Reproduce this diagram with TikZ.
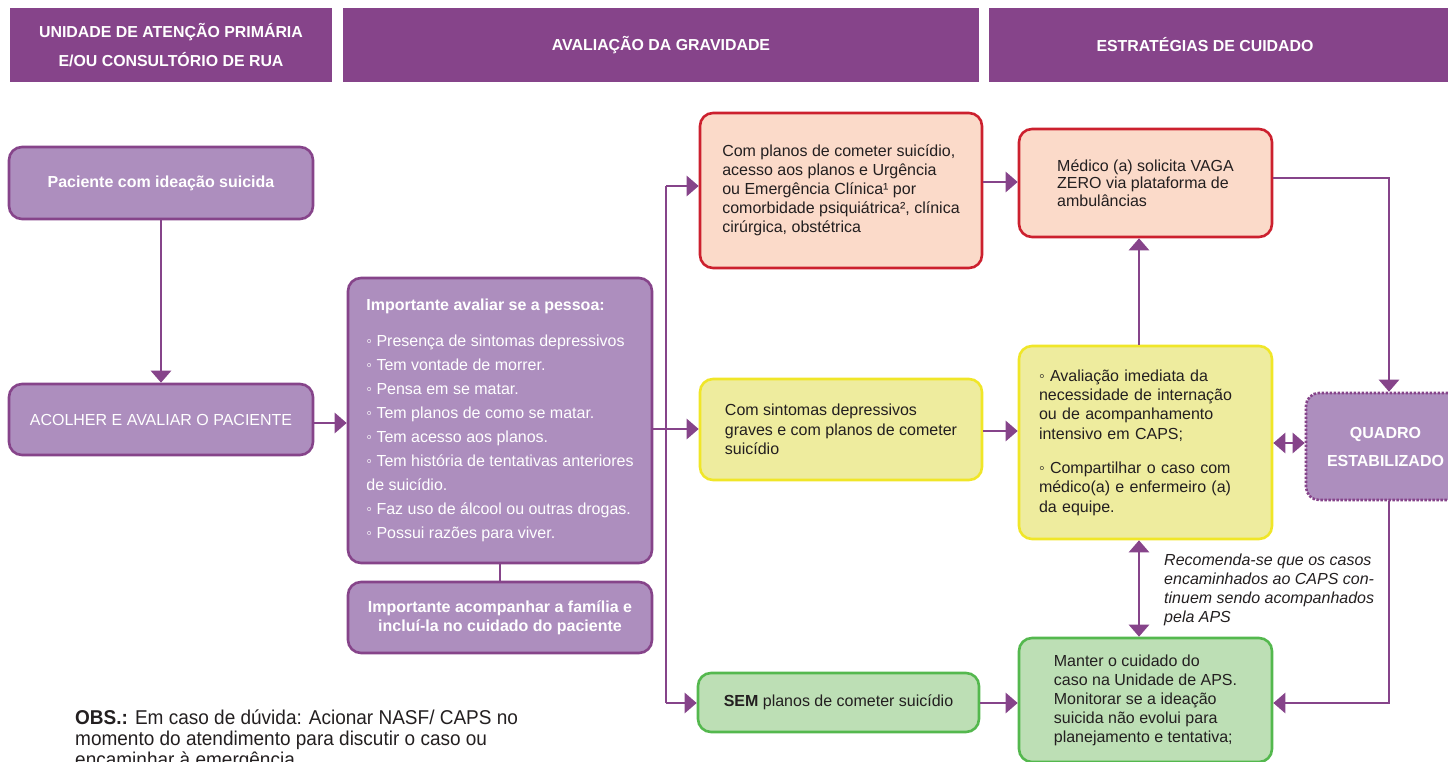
\documentclass[tikz,border=0pt]{standalone}
\usepackage{fontspec}
\setmainfont{Liberation Sans}
\newfontfamily\obsfont{Liberation Sans}[FakeStretch=0.95]
\usetikzlibrary{arrows.meta}
\definecolor{hdrc}{RGB}{134,68,138}
\definecolor{lc}{RGB}{134,68,138}
\definecolor{pfill}{RGB}{173,142,190}
\definecolor{rf}{RGB}{251,218,201}
\definecolor{rc}{RGB}{204,32,46}
\definecolor{yf}{RGB}{238,236,158}
\definecolor{yc}{RGB}{240,230,40}
\definecolor{gf}{RGB}{189,223,181}
\definecolor{gc}{RGB}{84,184,78}
\definecolor{tc}{RGB}{35,31,32}
\begin{document}
\begin{tikzpicture}[x=1pt,y=-1pt,
  hdrtext/.style={text=white, font=\bfseries\fontsize{15.9}{28.5}\selectfont, align=center},
  hdr/.style={hdrtext, fill=hdrc, inner sep=0pt, minimum height=74pt},
  box/.style={rounded corners=13pt, line width=2.6pt, inner sep=0pt, align=left, font=\fontsize{16}{19}\selectfont},
  pbox/.style={box, draw=lc, fill=pfill, text=white},
  rbox/.style={box, draw=rc, fill=rf, text=tc},
  ybox/.style={box, draw=yc, fill=yf, text=tc},
  gbox/.style={box, draw=gc, fill=gf, text=tc},
  qbox/.style={box, draw=lc, fill=pfill, text=white, dash pattern=on 2.4pt off 1.6pt},
  ln/.style={draw=lc, line width=2.8pt},
  arr/.style={ln, -{Triangle[length=12pt,width=20pt]}},
  darr/.style={ln, {Triangle[length=12pt,width=20pt]}-{Triangle[length=12pt,width=20pt]}}
]
\useasboundingbox (0,0) rectangle (1448,762);

% headers
\node[hdr, minimum width=322pt] (h1) at (171,45) {UNIDADE DE ATENÇÃO PRIMÁRIA\\E/OU CONSULTÓRIO DE RUA};
\node[hdr, minimum width=636pt] (h2) at (661,45) {AVALIAÇÃO DA GRAVIDADE};
\node[hdr, minimum width=459pt, label={[hdrtext, xshift=-13.5pt]center:ESTRATÉGIAS DE CUIDADO}] (h3) at (1218.5,45) {};

% left column
\node[pbox, minimum width=304pt, minimum height=72pt, align=center, font=\bfseries\fontsize{16}{19}\selectfont] (pac) at (161,183) {Paciente com ideação suicida};
\node[pbox, minimum width=304pt, minimum height=71pt, align=center] (aco) at (161,419.5) {ACOLHER E AVALIAR O PACIENTE};

% evaluation
\node[pbox, minimum width=304pt, minimum height=285pt, font=\fontsize{16}{24}\selectfont] (aval) at (500,420.5) {\textbf{Importante avaliar se a pessoa:}\\[12pt]
◦ Presença de sintomas depressivos\\
◦ Tem vontade de morrer.\\
◦ Pensa em se matar.\\
◦ Tem planos de como se matar.\\
◦ Tem acesso aos planos.\\
◦ Tem história de tentativas anteriores\\
de suicídio.\\
◦ Faz uso de álcool ou outras drogas.\\
◦ Possui razões para viver.};
\node[pbox, minimum width=304pt, minimum height=71pt, align=center, font=\bfseries\fontsize{16}{19}\selectfont] (fam) at (500,617.5) {Importante acompanhar a família e\\incluí-la no cuidado do paciente};

% severity
\node[rbox, minimum width=282pt, minimum height=155pt] (r1) at (841,190.5) {Com planos de cometer suicídio,\\acesso aos planos e Urgência\\ou Emergência Clínica¹ por\\comorbidade psiquiátrica², clínica\\cirúrgica, obstétrica};
\node[ybox, minimum width=282pt, minimum height=101pt, font=\fontsize{16}{19.5}\selectfont] (y1) at (841,429.5) {Com sintomas depressivos\\graves e com planos de cometer\\suicídio};
\node[gbox, minimum width=281pt, minimum height=59pt, align=center] (g1) at (838.5,702.5) {\textbf{SEM} planos de cometer suicídio};

% strategies
\node[rbox, minimum width=253pt, minimum height=108pt, font=\fontsize{16}{17.5}\selectfont] (r2) at (1145.5,183) {Médico (a) solicita VAGA\\ZERO via plataforma de\\ambulâncias};
\node[ybox, minimum width=253pt, minimum height=193pt, text width=213pt, font=\fontsize{16}{19.3}\selectfont] (y2) at (1145.5,442.5) {◦ Avaliação imediata da\\necessidade de internação\\ou de acompanhamento\\intensivo em CAPS;\\[15pt]◦ Compartilhar o caso com\\médico(a) e enfermeiro (a)\\da equipe.};
\node[gbox, minimum width=253pt, minimum height=124pt] (g2) at (1145.5,700) {Manter o cuidado do\\caso na Unidade de APS.\\Monitorar se a ideação\\suicida não evolui para\\planejamento e tentativa;};
\node[qbox, minimum width=159pt, minimum height=107pt, align=center, font=\bfseries\fontsize{16}{28}\selectfont] (q) at (1385.5,446.5) {QUADRO\\ESTABILIZADO};

% notes
\node[anchor=north west, inner sep=0pt, align=left, text=tc, font=\itshape\fontsize{16}{19}\selectfont] (note) at (1164,554) {Recomenda-se que os casos\\encaminhados ao CAPS con-\\tinuem sendo acompanhados\\pela APS};
\node[anchor=north west, inner sep=0pt, align=left, text=tc, font=\obsfont\fontsize{20}{21}\selectfont] (obs) at (75,710) {\textbf{OBS.:} Em caso de dúvida: Acionar NASF/ CAPS no\\momento do atendimento para discutir o caso ou\\encaminhar à emergência.};

% coordinates
\coordinate (bt) at (666,186);
\coordinate (bm) at (666,429);
\coordinate (bb) at (666,703);
\coordinate (ya) at (0,423);
\coordinate (yr) at (0,182);
\coordinate (yy) at (0,431);
\coordinate (yq) at (0,443);
\coordinate (yrq) at (0,178);
\coordinate (yg) at (0,703);
\coordinate (vx) at (1139,0);
\coordinate (qx) at (1389,0);

% connectors
\draw[arr] (pac) -- (aco);
\draw[arr] (aco.east |- ya) -- (aval.west |- ya);
\draw[ln] (aval) -- (fam);
\draw[ln] (aval.east |- bm) -- (bm);
\draw[ln] (bt) -- (bb);
\draw[arr] (bt) -- (r1.west |- bt);
\draw[arr] (bm) -- (y1.west |- bm);
\draw[arr] (bb) -- (g1.west |- bb);
\draw[arr] (r1.east |- yr) -- (r2.west |- yr);
\draw[arr] (y1.east |- yy) -- (y2.west |- yy);
\draw[arr] (g1.east |- yg) -- (g2.west |- yg);
\draw[arr] (r2.east |- yrq) -| (q.north -| qx);
\draw[arr] (y2.north -| vx) -- (r2.south -| vx);
\draw[darr] (y2.east |- yq) -- (q.west |- yq);
\draw[darr] (y2.south -| vx) -- (g2.north -| vx);
\draw[arr] (q.south -| qx) |- (g2.east |- yg);
\end{tikzpicture}
\end{document}
